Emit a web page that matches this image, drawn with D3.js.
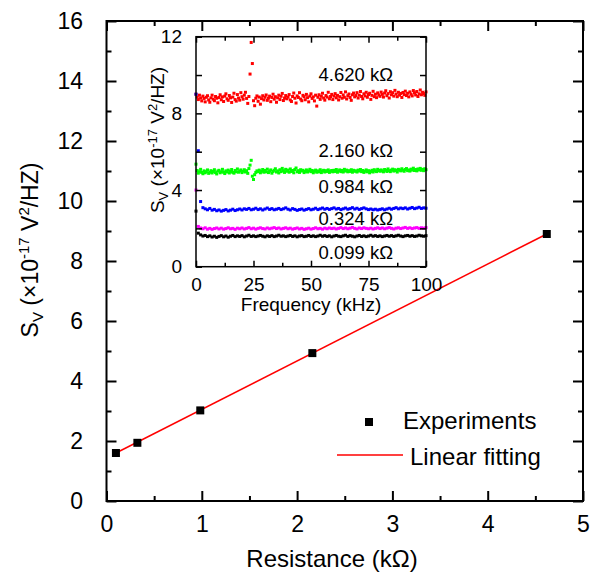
<!DOCTYPE html>
<html>
<head>
<meta charset="utf-8">
<script src="https://cdn.jsdelivr.net/npm/d3@7"></script>
<style>
  html, body { margin: 0; padding: 0; background: #fff; }
  svg { display: block; font-family: "Liberation Sans", Arial, sans-serif; }
</style>
</head>
<body>
<svg id="chart" width="592" height="578"></svg>
<script>
// main plot: noise level vs resistance
const resistance = [0.099, 0.324, 0.984, 2.160, 4.620];
const noiseLevel = [1.60, 1.94, 3.02, 4.93, 8.90];
const fitX = [0.099, 4.620];
const fitY = [1.60, 8.90];

const mainXTicks = [0, 1, 2, 3, 4, 5];
const mainYTicks = [0, 2, 4, 6, 8, 10, 12, 14, 16];

// inset: spectra, frequency in kHz
const insetXTicks = [0, 25, 50, 75, 100];
const insetYTicks = [0, 4, 8, 12];
const seriesLabels = ['4.620 kΩ', '2.160 kΩ', '0.984 kΩ', '0.324 kΩ', '0.099 kΩ'];

// 0.5 kHz spacing
const red = [
  9.00, 8.85, 8.72, 8.95, 8.80, 8.65, 8.90, 8.78, 8.60, 8.84, 8.92, 8.70, 8.58, 8.81, 8.95, 8.74, 8.66, 8.88, 8.79, 8.55,
  8.83, 8.97, 8.71, 8.86, 8.62, 8.90, 9.02, 8.76, 8.68, 8.93, 8.81, 8.57, 8.85, 9.05, 8.72, 8.64, 8.98, 8.80, 8.69, 9.08,
  8.87, 8.74, 8.95, 9.10, 8.78, 8.52, 8.88, 10.05, 11.70, 10.60, 8.66, 8.40, 8.79, 8.91, 8.63, 8.85, 8.48, 8.77, 8.92, 8.70,
  8.84, 8.96, 8.68, 8.79, 8.90, 8.61, 8.83, 9.00, 8.74, 8.87, 8.58, 8.81, 8.95, 8.72, 8.89, 9.04, 8.67, 8.80, 8.93, 8.76,
  8.85, 8.98, 8.70, 8.62, 8.88, 9.06, 8.79, 8.54, 8.91, 8.83, 9.08, 8.75, 8.66, 8.94, 8.87, 8.71, 8.99, 8.82, 8.60, 8.90,
  9.02, 8.78, 8.86, 8.65, 8.95, 8.38, 8.84, 8.97, 8.73, 8.89, 9.05, 8.80, 8.69, 8.93, 8.85, 9.10, 8.76, 8.88, 8.99, 8.72,
  8.90, 9.03, 8.81, 8.94, 8.70, 8.87, 9.09, 8.79, 8.96, 8.84, 9.12, 8.75, 8.92, 9.01, 8.83, 8.68, 8.97, 9.06, 8.86, 8.93,
  9.08, 8.80, 8.95, 9.14, 8.88, 8.76, 9.02, 8.91, 9.10, 8.84, 8.98, 9.05, 8.73, 8.94, 9.15, 8.87, 9.00, 8.82, 9.07, 8.96,
  8.89, 9.11, 8.99, 8.85, 9.06, 9.18, 8.92, 9.03, 8.80, 9.13, 8.97, 9.08, 8.90, 9.20, 9.01, 8.87, 9.10, 8.95, 9.04, 8.83,
  9.09, 8.98, 9.16, 8.93, 9.05, 8.86, 9.12, 9.00, 8.91, 9.19, 9.07, 8.96, 9.14, 8.88, 9.02, 9.22, 8.97, 9.10, 9.03, 8.94, 9.12
];
const green = [
  5.35, 5.02, 4.88, 4.95, 5.08, 4.92, 4.85, 5.00, 4.90, 4.96, 5.05, 4.87, 4.93, 5.01, 4.89, 4.97, 5.06, 4.91, 4.84, 4.99,
  5.03, 4.90, 4.95, 5.08, 4.93, 4.86, 5.00, 4.94, 5.04, 4.89, 4.97, 5.07, 4.92, 4.88, 5.02, 4.95, 5.10, 4.93, 4.99, 5.05,
  4.91, 4.98, 5.06, 4.94, 5.01, 4.87, 5.12, 5.30, 5.55, 4.72, 4.55, 4.80, 4.92, 5.00, 4.96, 5.04, 4.90, 4.98, 5.07, 4.93,
  5.02, 4.95, 5.09, 4.91, 4.99, 5.05, 4.88, 4.97, 5.03, 5.11, 4.94, 5.00, 4.89, 5.06, 4.96, 5.13, 5.01, 4.92, 5.08, 4.98,
  5.04, 4.93, 5.10, 4.97, 5.02, 4.90, 5.07, 5.15, 4.95, 5.01, 4.92, 5.06, 4.99, 5.03, 4.91, 4.97, 5.05, 4.94, 5.00, 5.08,
  4.96, 5.02, 4.90, 4.98, 5.04, 4.93, 5.00, 4.95, 5.06, 4.91, 4.99, 5.03, 4.94, 5.01, 4.97, 5.05, 4.92, 4.98, 5.02, 4.95,
  5.03, 4.97, 5.07, 4.93, 5.00, 5.05, 4.96, 5.02, 4.94, 5.08, 4.99, 5.04, 4.95, 5.01, 4.97, 5.06, 4.93, 5.03, 4.98, 5.00,
  4.94, 5.04, 4.99, 5.07, 4.96, 5.02, 4.92, 4.98, 5.05, 4.95, 5.01, 4.90, 4.97, 5.03, 4.94, 5.06, 5.00, 4.96, 5.08, 5.02,
  4.98, 5.05, 5.00, 4.95, 5.07, 5.03, 4.97, 5.10, 5.01, 4.96, 5.04, 5.09, 4.99, 5.06, 5.02, 4.94, 5.08, 5.04, 5.00, 5.11,
  5.03, 4.98, 5.07, 5.12, 5.01, 5.05, 4.99, 5.09, 5.04, 5.14, 5.02, 5.07, 5.00, 5.10, 5.05, 5.13, 5.03, 5.08, 5.01, 5.11, 5.06
];
// 1 kHz spacing
const blue = [
  9.00, 6.05, 3.40, 3.08, 3.02, 2.97, 3.04, 2.95, 2.99, 2.92, 2.96, 2.90, 2.94, 2.98, 2.91, 2.95, 3.00, 2.93, 2.97, 3.01,
  2.96, 3.02, 2.99, 3.04, 2.97, 3.00, 3.05, 2.98, 3.02, 2.96, 3.01, 3.06, 2.99, 3.03, 2.97, 3.00, 3.04, 2.98, 3.02, 3.07,
  3.00, 2.96, 3.03, 2.99, 2.94, 2.98, 3.01, 2.95, 2.99, 3.03, 2.97, 3.00, 3.05, 2.98, 3.02, 3.06, 3.00, 3.04, 2.99, 3.03,
  3.07, 3.01, 3.04, 2.98, 3.02, 3.06, 3.00, 3.03, 3.08, 3.01, 3.05, 2.99, 3.03, 3.07, 3.02, 2.98, 3.01, 2.97, 3.00, 2.96,
  2.99, 3.02, 2.97, 3.01, 3.05, 3.00, 3.04, 3.08, 3.02, 3.06, 3.03, 3.07, 3.01, 3.05, 3.09, 3.03, 3.06, 3.10, 3.04, 3.07, 3.05
];
const magenta = [
  4.00, 2.10, 2.02, 1.98, 2.03, 1.96, 2.00, 1.95, 1.99, 2.02, 1.97, 2.01, 1.96, 1.99, 2.03, 1.98, 2.00, 1.95, 2.01, 1.98,
  2.02, 1.97, 2.00, 2.04, 1.98, 2.01, 1.96, 2.00, 2.03, 1.99, 1.97, 2.02, 1.98, 2.01, 2.04, 1.99, 2.02, 1.97, 2.00, 2.03,
  1.98, 2.01, 1.96, 1.99, 2.02, 1.97, 2.00, 1.95, 1.98, 2.01, 1.96, 1.99, 2.03, 1.98, 2.00, 1.96, 2.01, 1.98, 2.02, 1.99,
  2.01, 1.97, 2.00, 2.04, 1.99, 2.02, 1.98, 2.01, 2.05, 2.00, 1.97, 2.02, 1.99, 2.03, 2.00, 1.98, 2.01, 1.97, 2.00, 2.03,
  1.99, 2.02, 1.98, 2.01, 2.04, 2.00, 1.97, 2.01, 2.03, 1.99, 2.02, 2.05, 2.00, 2.03, 1.99, 2.02, 2.04, 2.00, 2.03, 2.01, 2.04
];
const black = [
  2.90, 1.75, 1.66, 1.60, 1.63, 1.57, 1.61, 1.55, 1.59, 1.53, 1.58, 1.62, 1.56, 1.60, 1.54, 1.59, 1.63, 1.57, 1.61, 1.58,
  1.62, 1.56, 1.60, 1.64, 1.58, 1.61, 1.57, 1.60, 1.63, 1.59, 1.56, 1.61, 1.58, 1.62, 1.57, 1.60, 1.64, 1.59, 1.61, 1.57,
  1.60, 1.63, 1.58, 1.61, 1.56, 1.60, 1.62, 1.57, 1.59, 1.63, 1.58, 1.61, 1.57, 1.60, 1.64, 1.59, 1.62, 1.58, 1.61, 1.56,
  1.60, 1.63, 1.59, 1.57, 1.61, 1.64, 1.58, 1.62, 1.59, 1.56, 1.60, 1.63, 1.58, 1.61, 1.57, 1.60, 1.64, 1.59, 1.62, 1.58,
  1.61, 1.57, 1.60, 1.63, 1.59, 1.62, 1.58, 1.61, 1.64, 1.60, 1.57, 1.61, 1.63, 1.59, 1.62, 1.58, 1.60, 1.64, 1.61, 1.59, 1.62
];

const spectra = [
  { values: red, step: 0.5, color: '#ff0000' },
  { values: green, step: 0.5, color: '#00ff00' },
  { values: blue, step: 1, color: '#0000ff' },
  { values: magenta, step: 1, color: '#ff00ff' },
  { values: black, step: 1, color: '#000000' },
];

const svg = d3.select('#chart');

// ---- main plot ----
const x = d3.scaleLinear().domain([0, 5]).range([106.5, 583]);
const y = d3.scaleLinear().domain([0, 16]).range([501, 21]);

function ticks(g, axis, values, size, pad, font, labels) {
  g.call(axis.tickValues(values).tickSize(-size).tickPadding(pad)
    .tickFormat(labels ? d3.format('d') : ''));
  g.select('.domain').remove();
  g.selectAll('line').attr('stroke', '#000').attr('stroke-width', 2);
  g.selectAll('text').attr('font-size', font).attr('fill', '#000')
    .attr('font-family', '"Liberation Sans", Arial, sans-serif');
}

const minorX = d3.range(0.5, 5, 1);
const minorY = d3.range(1, 16, 2);
const main = svg.append('g');
ticks(main.append('g').attr('transform', 'translate(0,501)'), d3.axisBottom(x), mainXTicks, 10, 15, 23, true);
ticks(main.append('g').attr('transform', 'translate(0,501)'), d3.axisBottom(x), minorX, 5, 0, 0, false);
ticks(main.append('g').attr('transform', 'translate(0,21)'), d3.axisTop(x), mainXTicks, 10, 0, 0, false);
ticks(main.append('g').attr('transform', 'translate(0,21)'), d3.axisTop(x), minorX, 5, 0, 0, false);
ticks(main.append('g').attr('transform', 'translate(106.5,0)'), d3.axisLeft(y), mainYTicks, 10, 23.5, 23, true);
ticks(main.append('g').attr('transform', 'translate(106.5,0)'), d3.axisLeft(y), minorY, 5, 0, 0, false);
ticks(main.append('g').attr('transform', 'translate(583,0)'), d3.axisRight(y), mainYTicks, 10, 0, 0, false);
ticks(main.append('g').attr('transform', 'translate(583,0)'), d3.axisRight(y), minorY, 5, 0, 0, false);

main.append('rect')
  .attr('x', x(0)).attr('y', y(16))
  .attr('width', x(5) - x(0)).attr('height', y(0) - y(16))
  .attr('fill', 'none').attr('stroke', '#000').attr('stroke-width', 2);

// fit line + points
main.append('line')
  .attr('x1', x(fitX[0])).attr('y1', y(fitY[0]))
  .attr('x2', x(fitX[1])).attr('y2', y(fitY[1]))
  .attr('stroke', '#ff0000').attr('stroke-width', 1.5);

main.append('g').selectAll('rect')
  .data(resistance)
  .enter().append('rect')
  .attr('x', (d) => x(d) - 4)
  .attr('y', (d, i) => y(noiseLevel[i]) - 4)
  .attr('width', 8).attr('height', 8)
  .attr('fill', '#000');

// axis titles
main.append('text')
  .attr('x', 332).attr('y', 567)
  .attr('text-anchor', 'middle').attr('font-size', 24)
  .text('Resistance (kΩ)');

function svLabel(g, fs, sub) {
  g.append('tspan').text('S');
  g.append('tspan').attr('font-size', sub).attr('dy', fs * 0.22).text('V');
  g.append('tspan').attr('dy', -fs * 0.22).text(' (×10');
  g.append('tspan').attr('font-size', sub).attr('dy', -fs * 0.38).text('-17');
  g.append('tspan').attr('dy', fs * 0.38).text(' V');
  g.append('tspan').attr('font-size', sub).attr('dy', -fs * 0.38).text('2');
  g.append('tspan').attr('dy', fs * 0.38).text('/HZ)');
}

svLabel(main.append('text')
  .attr('transform', 'translate(38,250) rotate(-90)')
  .attr('text-anchor', 'middle').attr('font-size', 23), 23, 15);

// legend
main.append('rect').attr('x', 365).attr('y', 418).attr('width', 8).attr('height', 8).attr('fill', '#000');
main.append('text').attr('x', 403).attr('y', 429).attr('font-size', 24).text('Experiments');
main.append('line').attr('x1', 337).attr('x2', 403).attr('y1', 455).attr('y2', 455)
  .attr('stroke', '#ff0000').attr('stroke-width', 1.5);
main.append('text').attr('x', 410).attr('y', 465).attr('font-size', 24).text('Linear fitting');

// ---- inset ----
const fx = d3.scaleLinear().domain([0, 100]).range([196, 426]);
const fy = d3.scaleLinear().domain([0, 12]).range([266.7, 36.7]);
const inset = svg.append('g');

inset.append('rect')
  .attr('x', fx(0)).attr('y', fy(12))
  .attr('width', fx(100) - fx(0)).attr('height', fy(0) - fy(12))
  .attr('fill', '#fff');

spectra.forEach((s) => {
  inset.append('g').selectAll('rect')
    .data(s.values)
    .enter().append('rect')
    .attr('x', (d, i) => fx(i * s.step) - 1.5)
    .attr('y', (d) => fy(d) - 1.5)
    .attr('width', 3).attr('height', 3)
    .attr('fill', s.color);
});

function insetTicks(g, axis, values, size, pad, font, labels) {
  ticks(g, axis, values, size, pad, font, labels);
  g.selectAll('line').attr('stroke-width', 1.5);
}
const minorF = d3.range(12.5, 100, 25);
const minorS = d3.range(2, 12, 4);
insetTicks(inset.append('g').attr('transform', 'translate(0,266.7)'), d3.axisBottom(fx), insetXTicks, 6, 11, 19, true);
insetTicks(inset.append('g').attr('transform', 'translate(0,266.7)'), d3.axisBottom(fx), minorF, 4, 0, 0, false);
insetTicks(inset.append('g').attr('transform', 'translate(0,36.7)'), d3.axisTop(fx), insetXTicks, 6, 0, 0, false);
insetTicks(inset.append('g').attr('transform', 'translate(0,36.7)'), d3.axisTop(fx), minorF, 4, 0, 0, false);
insetTicks(inset.append('g').attr('transform', 'translate(196,0)'), d3.axisLeft(fy), insetYTicks, 6, 14, 19, true);
insetTicks(inset.append('g').attr('transform', 'translate(196,0)'), d3.axisLeft(fy), minorS, 6, 0, 0, false);
insetTicks(inset.append('g').attr('transform', 'translate(426,0)'), d3.axisRight(fy), insetYTicks, 6, 0, 0, false);
insetTicks(inset.append('g').attr('transform', 'translate(426,0)'), d3.axisRight(fy), minorS, 6, 0, 0, false);

inset.append('rect')
  .attr('x', fx(0)).attr('y', fy(12))
  .attr('width', fx(100) - fx(0)).attr('height', fy(0) - fy(12))
  .attr('fill', 'none').attr('stroke', '#000').attr('stroke-width', 1.5);

const labelY = [81, 157, 193, 225, 259];
inset.append('g').selectAll('text')
  .data(seriesLabels)
  .enter().append('text')
  .attr('x', 393).attr('y', (d, i) => labelY[i])
  .attr('text-anchor', 'end').attr('font-size', 18.5)
  .text((d) => d);

inset.append('text')
  .attr('x', 311).attr('y', 311)
  .attr('text-anchor', 'middle').attr('font-size', 19)
  .text('Frequency (kHz)');

svLabel(inset.append('text')
  .attr('transform', 'translate(164,140) rotate(-90)')
  .attr('text-anchor', 'middle').attr('font-size', 19), 19, 13);
</script>
</body>
</html>
